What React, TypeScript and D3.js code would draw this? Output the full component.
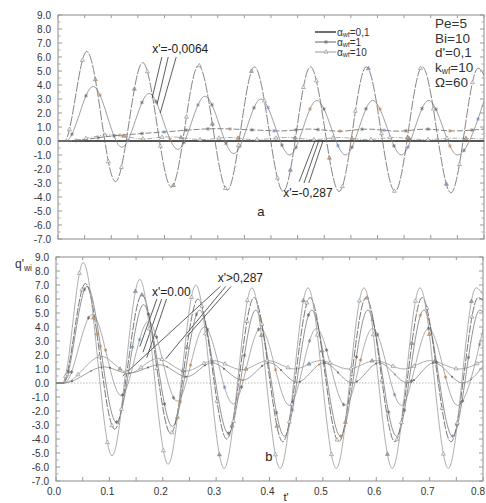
import React, { useEffect, useRef } from "react";
import * as d3 from "d3";

const W = 486;
const H = 503;

const X_TICKS = [0, 0.1, 0.2, 0.3, 0.4, 0.5, 0.6, 0.7, 0.8];
const X_MINOR = [0.05, 0.15, 0.25, 0.35, 0.45, 0.55, 0.65, 0.75];
const Y_TICKS = [-7, -6, -5, -4, -3, -2, -1, 0, 1, 2, 3, 4, 5, 6, 7, 8, 9];
const Y_MINOR = [-6.5, -5.5, -4.5, -3.5, -2.5, -1.5, -0.5, 0.5, 1.5, 2.5, 3.5, 4.5, 5.5, 6.5, 7.5, 8.5];

// ---- panel a ----
const tA1 = [0, 0.012, 0.054, 0.108, 0.159, 0.213, 0.264, 0.318, 0.369, 0.423, 0.474, 0.528, 0.579, 0.633, 0.684, 0.738, 0.789, 0.8];
const vA1 = [0, 0, 6.4, -2.9, 5.6, -3.3, 5.4, -3.5, 5.3, -3.6, 5.3, -3.6, 5.3, -3.6, 5.3, -3.7, 5.2, 4.7];
const tA2 = [0, 0.015, 0.066, 0.12, 0.171, 0.225, 0.276, 0.33, 0.381, 0.435, 0.486, 0.54, 0.591, 0.645, 0.696, 0.75, 0.8];
const vA2 = [0, 0, 3.9, -0.45, 3.4, -0.6, 3.2, -0.9, 3.0, -1.0, 2.9, -1.0, 2.9, -1.0, 2.9, -1.0, 2.85];
const tA3 = [0, 0.015, 0.1, 0.16, 0.21, 0.27, 0.32, 0.37, 0.43, 0.48, 0.53, 0.58, 0.63, 0.69, 0.74, 0.8];
const vA3 = [0, 0, 0.45, 0.15, 0.3, 0.1, 0.25, 0.1, 0.25, 0.1, 0.25, 0.1, 0.25, 0.1, 0.2, 0.15];
const tA4 = [0, 0.015, 0.1, 0.2, 0.3, 0.36, 0.42, 0.47, 0.53, 0.58, 0.64, 0.69, 0.74, 0.8];
const vA4 = [0, 0, 0.35, 0.65, 0.88, 0.8, 0.72, 0.85, 0.7, 0.85, 0.7, 0.85, 0.72, 0.85];
const tA5 = [0, 0.8];
const vA5 = [0, 0];

// ---- panel b ----
const tB1 = [0, 0.012, 0.051, 0.105, 0.157, 0.21, 0.262, 0.315, 0.367, 0.42, 0.472, 0.525, 0.577, 0.63, 0.682, 0.735, 0.787, 0.8];
const vB1 = [0, 0, 8.6, -5.2, 7.4, -5.8, 7.0, -6.1, 6.8, -6.1, 6.8, -6.1, 6.8, -6.1, 6.8, -6.1, 6.8, 6.3];
const tB2 = [0, 0.013, 0.055, 0.11, 0.161, 0.215, 0.266, 0.32, 0.371, 0.425, 0.476, 0.53, 0.581, 0.635, 0.686, 0.74, 0.791, 0.8];
const vB2 = [0, 0, 7.1, -3.3, 6.3, -3.6, 6.0, -4.0, 6.1, -4.2, 6.1, -4.2, 6.1, -4.2, 6.1, -4.2, 6.1, 5.9];
const tB3 = [0, 0.014, 0.058, 0.113, 0.164, 0.218, 0.269, 0.323, 0.374, 0.428, 0.479, 0.533, 0.584, 0.638, 0.689, 0.743, 0.794, 0.8];
const vB3 = [0, 0, 6.9, -2.8, 5.6, -3.1, 5.2, -3.6, 5.2, -3.8, 5.2, -3.8, 5.2, -3.8, 5.2, -3.8, 5.2, 5.1];
const tB4 = [0, 0.016, 0.068, 0.122, 0.173, 0.227, 0.278, 0.332, 0.383, 0.437, 0.488, 0.542, 0.593, 0.647, 0.698, 0.752, 0.8];
const vB4 = [0, 0, 4.9, -0.9, 4.4, -1.3, 4.0, -1.5, 3.9, -1.6, 3.9, -1.6, 3.9, -1.6, 3.9, -1.6, 3.85];
const tB5 = [0, 0.015, 0.085, 0.137, 0.19, 0.243, 0.295, 0.348, 0.397, 0.447, 0.495, 0.548, 0.598, 0.652, 0.7, 0.755, 0.8];
const vB5 = [0, 0, 1.9, 0.7, 1.75, 0.85, 1.6, 0.95, 1.6, 1.0, 1.6, 1.0, 1.6, 1.0, 1.6, 1.0, 1.6];
const tB6 = [0, 0.015, 0.09, 0.135, 0.195, 0.245, 0.292, 0.35, 0.4, 0.452, 0.502, 0.556, 0.605, 0.659, 0.708, 0.762, 0.8];
const vB6 = [0, 0, 1.15, 0.7, 1.3, 0.45, 1.45, 0.2, 1.45, 0.05, 1.45, 0.0, 1.45, 0.0, 1.45, 0.0, 1.2];

// annotation leader lines, data coords [t1, v1, t2, v2]
const LEAD_A_TOP = [
  [0.195, 6.0, 0.177, 3.1],
  [0.207, 6.0, 0.186, 2.6],
  [0.222, 6.0, 0.192, 2.0],
];
const LEAD_A_BOT = [
  [0.453, -2.9, 0.483, 0.05],
  [0.462, -3.0, 0.49, 0.05],
  [0.471, -3.0, 0.498, 0.05],
];
const LEAD_B_LEFT = [
  [0.189, 6.0, 0.157, 2.6],
  [0.198, 6.0, 0.163, 2.2],
  [0.207, 6.0, 0.17, 1.8],
];
const LEAD_B_RIGHT = [
  [0.308, 6.9, 0.125, 0.5],
  [0.318, 6.9, 0.205, 1.7],
  [0.328, 6.9, 0.245, 3.3],
];

const PARAMS = ["Pe=5", "Bi=10", "d'=0,1", "k|wf|=10", "Ω=60"];
const LEGEND = ["0,1", "1", "10"];

const FONT = "'Liberation Sans', Arial, sans-serif";

type Style = { color: string; w: number; dash?: string; marker?: string; step?: number; offset?: number };

export default function App() {
  const ref = useRef<SVGSVGElement>(null);

  useEffect(() => {
    const svg = d3.select(ref.current);
    svg.selectAll("*").remove();

    const panels = [
      { id: "a", left: 58, right: 484, top: 15, bottom: 239 },
      { id: "b", left: 56, right: 483, top: 257, bottom: 481 },
    ];

    const mk = (p: any) => {
      const x = d3.scaleLinear().domain([0, 0.8]).range([p.left, p.right]);
      const y = d3.scaleLinear().domain([-7, 9]).range([p.bottom, p.top]);
      return { x, y };
    };

    const drawFrame = (p: any, x: any, y: any, showX: boolean) => {
      const g = svg.append("g");
      g.append("rect")
        .attr("x", p.left).attr("y", p.top)
        .attr("width", p.right - p.left).attr("height", p.bottom - p.top)
        .attr("fill", "none").attr("stroke", "#8a8a8a").attr("stroke-width", 1);
      Y_TICKS.forEach((v) => {
        g.append("line").attr("x1", p.left).attr("x2", p.left + 4).attr("y1", y(v)).attr("y2", y(v)).attr("stroke", "#999");
        g.append("line").attr("x1", p.right).attr("x2", p.right - 4).attr("y1", y(v)).attr("y2", y(v)).attr("stroke", "#999");
        g.append("text").attr("x", p.left - 7).attr("y", y(v)).attr("dy", "0.35em")
          .attr("text-anchor", "end").attr("font-size", 10).attr("font-family", FONT).attr("fill", "#333")
          .text(v.toFixed(1));
      });
      Y_MINOR.forEach((v) => {
        g.append("line").attr("x1", p.left).attr("x2", p.left + 2.5).attr("y1", y(v)).attr("y2", y(v)).attr("stroke", "#aaa");
        g.append("line").attr("x1", p.right).attr("x2", p.right - 2.5).attr("y1", y(v)).attr("y2", y(v)).attr("stroke", "#aaa");
      });
      X_TICKS.concat(X_MINOR).forEach((t) => {
        g.append("line").attr("x1", x(t)).attr("x2", x(t)).attr("y1", p.bottom).attr("y2", p.bottom - 4).attr("stroke", "#999");
        g.append("line").attr("x1", x(t)).attr("x2", x(t)).attr("y1", p.top).attr("y2", p.top + 3).attr("stroke", "#999");
      });
      if (showX) {
        X_TICKS.forEach((t, i) => {
          const last = i === X_TICKS.length - 1;
          g.append("text").attr("x", last ? W - 1 : x(t) - 2).attr("y", p.bottom + 14)
            .attr("text-anchor", last ? "end" : "middle").attr("font-size", 10).attr("font-family", FONT).attr("fill", "#333")
            .text(t.toFixed(1));
        });
      }
    };

    const drawMarker = (g: any, type: string, px: number, py: number, i: number) => {
      const fillCol = i % 6 === 2 ? "#d9a878" : i % 6 === 5 ? "#8aa6cc" : "#f2f2f2";
      if (type === "tri") {
        g.append("path").attr("d", d3.symbol().type(d3.symbolTriangle).size(7)())
          .attr("transform", `translate(${px},${py})`)
          .attr("fill", fillCol).attr("stroke", "#777").attr("stroke-width", 0.5);
      } else if (type === "star") {
        g.append("path").attr("d", d3.symbol().type(d3.symbolAsterisk).size(10)())
          .attr("transform", `translate(${px},${py})`)
          .attr("fill", "none").attr("stroke", i % 5 === 2 ? "#b58a60" : i % 5 === 4 ? "#6b88b3" : "#666").attr("stroke-width", 0.7);
      } else if (type === "dot") {
        g.append("circle").attr("cx", px).attr("cy", py).attr("r", 1)
          .attr("fill", i % 4 === 1 ? "#b8875a" : "#666");
      }
    };

    const addCurve = (g: any, mg: any, x: any, y: any, tArr: number[], vArr: number[], s: Style) => {
      const line = d3.line<number>()
        .x((_d, i) => x(tArr[i]))
        .y((d) => y(d))
        .curve(d3.curveMonotoneX);
      const path = g.append("path").attr("d", line(vArr))
        .attr("fill", "none").attr("stroke", s.color).attr("stroke-width", s.w)
        .attr("stroke-dasharray", s.dash || null);
      if (s.marker) {
        const node = path.node() as SVGPathElement;
        const L = node.getTotalLength();
        const x0 = x(tArr[1]);
        const x1 = x(0.8) - 2;
        let i = 0;
        for (let tx = x0 + (s.offset || 4); tx < x1; tx += s.step || 10) {
          let lo = 0, hi = L;
          for (let k = 0; k < 22; k++) {
            const mid = (lo + hi) / 2;
            const pt = node.getPointAtLength(mid);
            if (pt.x < tx) lo = mid; else hi = mid;
          }
          const pt = node.getPointAtLength(lo);
          drawMarker(mg, s.marker, pt.x, pt.y, i);
          i++;
        }
      }
    };

    const defs = svg.append("defs");
    panels.forEach((p) => {
      defs.append("clipPath").attr("id", "clip-" + p.id)
        .append("rect").attr("x", p.left).attr("y", p.top).attr("width", p.right - p.left).attr("height", p.bottom - p.top);
    });

    // ---------- panel a ----------
    const pa = panels[0];
    const sa = mk(pa);
    drawFrame(pa, sa.x, sa.y, false);
    const ga = svg.append("g").attr("clip-path", "url(#clip-a)");
    const ma = svg.append("g").attr("clip-path", "url(#clip-a)");
    addCurve(ga, ma, sa.x, sa.y, tA5, vA5, { color: "#555", w: 1.8 });
    addCurve(ga, ma, sa.x, sa.y, tA3, vA3, { color: "#999", w: 0.8, dash: "5,1.5,1,1.5", marker: "tri", step: 19, offset: 20 });
    addCurve(ga, ma, sa.x, sa.y, tA4, vA4, { color: "#666", w: 0.8, dash: "6,2", marker: "star", step: 22, offset: 10 });
    addCurve(ga, ma, sa.x, sa.y, tA2, vA2, { color: "#888", w: 0.8, marker: "star", step: 14, offset: 6 });
    addCurve(ga, ma, sa.x, sa.y, tA1, vA1, { color: "#666", w: 0.8, dash: "10,1.5", marker: "tri", step: 13, offset: 5 });

    const ann = svg.append("g").attr("font-family", FONT).attr("fill", "#222");
    const leaders = (g: any, s: any, arr: number[][]) => {
      arr.forEach((l) => {
        g.append("line").attr("x1", s.x(l[0])).attr("y1", s.y(l[1])).attr("x2", s.x(l[2])).attr("y2", s.y(l[3]))
          .attr("stroke", "#333").attr("stroke-width", 0.8);
      });
    };
    leaders(ann, sa, LEAD_A_TOP);
    leaders(ann, sa, LEAD_A_BOT);
    ann.append("text").attr("x", sa.x(0.177)).attr("y", sa.y(6.3)).attr("font-size", 12).text("x'=-0,0064");
    ann.append("text").attr("x", sa.x(0.423)).attr("y", sa.y(-4.0)).attr("font-size", 12).text("x'=-0,287");
    ann.append("text").attr("x", sa.x(0.381)).attr("y", sa.y(-5.35)).attr("font-size", 13).attr("text-anchor", "middle").text("a");

    // legend
    const legTypes = ["dot", "star", "tri"];
    const legCols = ["#333", "#666", "#999"];
    LEGEND.forEach((lab, i) => {
      const ly = 32 + i * 10;
      ann.append("line").attr("x1", 315).attr("x2", 336).attr("y1", ly).attr("y2", ly)
        .attr("stroke", legCols[i]).attr("stroke-width", i === 0 ? 1.4 : 1);
      drawMarker(ann, legTypes[i], 326, ly, 0);
      const tx = ann.append("text").attr("x", 337).attr("y", ly + 3.5).attr("font-size", 10).attr("fill", "#333");
      tx.append("tspan").text("α");
      tx.append("tspan").attr("font-size", 7).attr("dy", 1).text("wf");
      tx.append("tspan").attr("dy", -1).text("=" + lab);
    });

    // params
    PARAMS.forEach((p, i) => {
      const t = ann.append("text").attr("x", 435).attr("y", 28 + i * 14.7).attr("font-size", 13.5).attr("fill", "#333");
      const parts = p.split("|");
      if (parts.length === 3) {
        t.append("tspan").text(parts[0]);
        t.append("tspan").attr("font-size", 8.5).attr("dy", 1.5).text(parts[1]);
        t.append("tspan").attr("dy", -1.5).text(parts[2]);
      } else {
        t.text(p);
      }
    });

    // ---------- panel b ----------
    const pb = panels[1];
    const sb = mk(pb);
    drawFrame(pb, sb.x, sb.y, true);
    const gb = svg.append("g").attr("clip-path", "url(#clip-b)");
    const mb = svg.append("g").attr("clip-path", "url(#clip-b)");
    gb.append("line").attr("x1", sb.x(0)).attr("x2", sb.x(0.8)).attr("y1", sb.y(0)).attr("y2", sb.y(0))
      .attr("stroke", "#bbb").attr("stroke-width", 1).attr("stroke-dasharray", "1.5,1.5");
    addCurve(gb, mb, sb.x, sb.y, tB6, vB6, { color: "#888", w: 0.8, marker: "dot", step: 19, offset: 8 });
    addCurve(gb, mb, sb.x, sb.y, tB5, vB5, { color: "#999", w: 0.8, marker: "tri", step: 21, offset: 14 });
    addCurve(gb, mb, sb.x, sb.y, tB4, vB4, { color: "#999", w: 0.8, marker: "star", step: 17, offset: 7 });
    addCurve(gb, mb, sb.x, sb.y, tB3, vB3, { color: "#777", w: 0.8, marker: "star", step: 16, offset: 5 });
    addCurve(gb, mb, sb.x, sb.y, tB2, vB2, { color: "#555", w: 0.8, dash: "8,1.5", marker: "tri", step: 15, offset: 4 });
    addCurve(gb, mb, sb.x, sb.y, tB1, vB1, { color: "#999", w: 0.8, marker: "tri", step: 14, offset: 3 });

    leaders(ann, sb, LEAD_B_LEFT);
    leaders(ann, sb, LEAD_B_RIGHT);
    ann.append("text").attr("x", sb.x(0.18)).attr("y", sb.y(6.2)).attr("font-size", 12).text("x'=0.00");
    ann.append("text").attr("x", sb.x(0.303)).attr("y", sb.y(7.2)).attr("font-size", 12).text("x'>0,287");
    ann.append("text").attr("x", sb.x(0.399)).attr("y", sb.y(-5.6)).attr("font-size", 13).attr("text-anchor", "middle").text("b");
    ann.append("text").attr("x", 286).attr("y", 501).attr("font-size", 11).attr("text-anchor", "middle").text("t'");
    const q = ann.append("text").attr("x", 15).attr("y", 268).attr("font-size", 12).attr("fill", "#333");
    q.append("tspan").text("q'");
    q.append("tspan").attr("font-size", 8.5).attr("dy", 3).text("wi");
  }, []);

  return (
    <svg ref={ref} width={W} height={H}
      style={{ position: "absolute", left: 0, top: 0, background: "#fff" }} />
  );
}
